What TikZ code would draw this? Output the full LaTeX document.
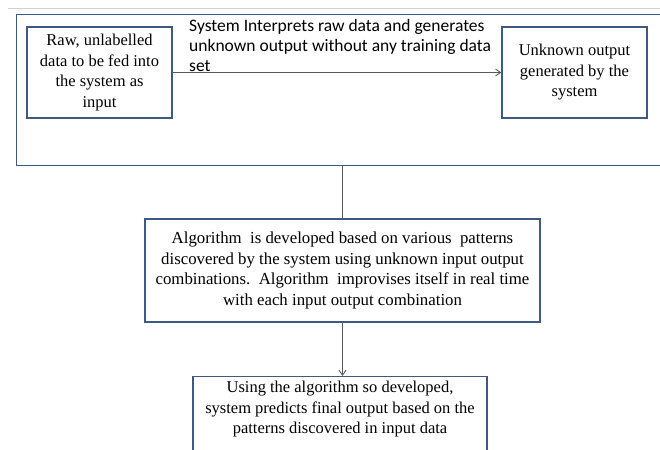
\documentclass[tikz,border=0pt]{standalone}
\usepackage{fontspec}
\setmainfont{Liberation Serif}
\newfontfamily\calib{Carlito}
\usetikzlibrary{arrows.meta}
\definecolor{boxblue}{HTML}{3F5A82}
\definecolor{linegray}{HTML}{5A5A5A}
\begin{document}
\begin{tikzpicture}[x=1pt,y=-1pt,
  box/.style={draw=boxblue,line width=1.4pt,fill=white,align=center,inner sep=0pt,
    font=\fontsize{16.5}{20.5}\selectfont},
  conn/.style={draw=linegray,line width=0.9pt},
  arr/.style={conn,-{Straight Barb[length=5pt,width=7pt]}}]
\useasboundingbox (0,0) rectangle (660,449);
\clip (0,0) rectangle (660,449);
\fill[white] (0,0) rectangle (660,449);
\draw[draw=black!18,line width=1pt] (8,9) -- (660,9);
\node[draw=boxblue,line width=1.4pt,minimum width=660pt,minimum height=151pt,anchor=north west,inner sep=0pt] (frame) at (16,14) {};
\node[box,minimum width=145pt,minimum height=91pt] (raw) at (99.5,72.5) {Raw, unlabelled\\data to be fed into\\the system as\\input};
\node[box,minimum width=145pt,minimum height=91pt] (unk) at (574.5,72.5) {Unknown output\\generated by the\\system};
\node[anchor=west,align=left,inner sep=0pt,font=\calib\fontsize{17.5}{20}\selectfont] (lbl) at (189,45) {System Interprets raw data and generates\\unknown output without any training data\\set};
\draw[arr] (raw.east) -- (unk.west);
\node[box,minimum width=395pt,minimum height=103pt,font=\fontsize{16.8}{20.5}\selectfont] (alg) at (342.5,270.5) {Algorithm\ \ is developed based on various\ \ patterns\\discovered by the system using unknown input output\\combinations.\ \ Algorithm\ \ improvises itself in real time\\with each input output combination};
\node[box,minimum width=294pt,anchor=north,inner ysep=0pt] (pred) at (340,376) {\rule{0pt}{16pt}Using the algorithm so developed,\\system predicts final output based on the\\patterns discovered in input data\\[40pt]};
\draw[conn] (alg.north |- frame.south) -- (alg.north);
\draw[arr] (alg.south) -- (alg.south |- pred.north);
\end{tikzpicture}
\end{document}
